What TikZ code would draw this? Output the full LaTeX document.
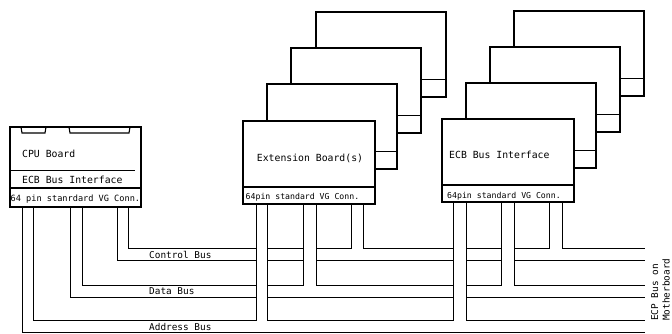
\documentclass[tikz,border=0pt]{standalone}
\usepackage{fontspec}
\newfontfamily\mono{DejaVu Sans Mono}
\begin{document}
\begin{tikzpicture}[x=1pt,y=-1pt,
  board/.style={draw, fill=white, line width=1.5pt, rectangle, anchor=north west,
    inner sep=0pt, outer sep=0pt, minimum width=132pt, minimum height=83pt},
  backboard/.style={board, line width=1.3pt, minimum width=130pt, minimum height=85pt},
  divline/.style={line width=1pt},
  wire/.style={line width=0.9pt},
  lbl/.style={font=\mono\fontsize{9.8}{11}\selectfont, inner sep=0pt, anchor=west},
  conn/.style={font=\mono\fontsize{8.2}{10}\selectfont, inner sep=0pt, anchor=west},
  buslbl/.style={font=\mono\fontsize{9.4}{11}\selectfont, inner sep=0pt, anchor=west}]
\useasboundingbox (0,0) rectangle (672,333);

% ---------- CPU board ----------
\node[board, minimum width=131pt, minimum height=80pt] (cpu) at (10,127) {};
\draw[line width=1.1pt] (21,127) -- (22,133) -- (45,133) -- (46,127);
\draw[line width=1.1pt] (69,127) -- (70,133) -- (129,133) -- (130,127);
\draw[divline] (10,170) -- (135,170);
\draw[line width=1.5pt] (10,188) -- (141,188);
\node[lbl] (cputxt) at (22,154) {CPU Board};
\node[lbl] (cpuecb) at (22,180) {ECB Bus Interface};
\node[conn, font=\mono\fontsize{8.6}{10}\selectfont] (cpuconn) at (10.5,199) {64 pin stanrdard VG Conn.};

% ---------- Extension boards ----------
\node[backboard] (e3) at (316,12) {};
\draw[divline] ([yshift=18pt]e3.south west) -- ([yshift=18pt]e3.south east);
\node[backboard] (e2) at (291,48) {};
\draw[divline] ([yshift=18pt]e2.south west) -- ([yshift=18pt]e2.south east);
\node[backboard] (e1) at (267,84) {};
\draw[divline] ([yshift=18pt]e1.south west) -- ([yshift=18pt]e1.south east);
\node[board] (e0) at (243,121) {};
\draw[line width=1.4pt] ([yshift=17pt]e0.south west) -- ([yshift=17pt]e0.south east);
\node[lbl, anchor=center] (etxt) at (310,158) {Extension Board(s)};
\node[conn] (econn) at (245.5,197.5) {64pin standard VG Conn.};

% ---------- ECB bus interface boards ----------
\node[backboard] (b3) at (514,11) {};
\draw[divline] ([yshift=18pt]b3.south west) -- ([yshift=18pt]b3.south east);
\node[backboard] (b2) at (490,47) {};
\draw[divline] ([yshift=18pt]b2.south west) -- ([yshift=18pt]b2.south east);
\node[backboard] (b1) at (466,83) {};
\draw[divline] ([yshift=18pt]b1.south west) -- ([yshift=18pt]b1.south east);
\node[board] (b0) at (442,119) {};
\draw[line width=1.4pt] ([yshift=17pt]b0.south west) -- ([yshift=17pt]b0.south east);
\node[lbl] (btxt) at (449,155) {ECB Bus Interface};
\node[conn] (bconn) at (447,196) {64pin standard VG Conn.};

% ---------- pins ----------
\coordinate (cp1) at (22,207);  \coordinate (cp2) at (33,207);
\coordinate (cp3) at (70,207);  \coordinate (cp4) at (82,207);
\coordinate (cp5) at (117,207); \coordinate (cp6) at (128,207);
\coordinate (ep1) at (256,204); \coordinate (ep2) at (267,204);
\coordinate (ep3) at (303,204); \coordinate (ep4) at (316,204);
\coordinate (ep5) at (351,204); \coordinate (ep6) at (363,204);
\coordinate (bp1) at (453,202); \coordinate (bp2) at (466,202);
\coordinate (bp3) at (501,202); \coordinate (bp4) at (514,202);
\coordinate (bp5) at (549,202); \coordinate (bp6) at (562,202);

% ---------- bus levels ----------
\coordinate (C1) at (0,248);   \coordinate (C1r) at (645,248);
\coordinate (C2) at (0,260.5); \coordinate (C2r) at (645,260.5);
\coordinate (D1) at (0,285);   \coordinate (D1r) at (645,285);
\coordinate (D2) at (0,297);   \coordinate (D2r) at (645,297);
\coordinate (A1) at (0,320.5); \coordinate (A1r) at (645,320.5);
\coordinate (A2) at (0,332);   \coordinate (A2r) at (645,332);

% control bus
\draw[wire] (cp6) |- (ep1 |- C1);
\draw[wire] (ep2 |- C1) -- (ep3 |- C1);
\draw[wire] (ep4 |- C1) -| (ep5);
\draw[wire] (ep6) |- (bp1 |- C1);
\draw[wire] (bp2 |- C1) -- (bp3 |- C1);
\draw[wire] (bp4 |- C1) -| (bp5);
\draw[wire] (bp6) |- (C1r);
\draw[wire] (cp5) |- (ep1 |- C2);
\draw[wire] (ep2 |- C2) -- (ep3 |- C2);
\draw[wire] (ep4 |- C2) -- (bp1 |- C2);
\draw[wire] (bp2 |- C2) -- (bp3 |- C2);
\draw[wire] (bp4 |- C2) -- (C2r);
% data bus
\draw[wire] (cp4) |- (ep1 |- D1);
\draw[wire] (ep2 |- D1) -| (ep3);
\draw[wire] (ep4) |- (bp1 |- D1);
\draw[wire] (bp2 |- D1) -| (bp3);
\draw[wire] (bp4) |- (D1r);
\draw[wire] (cp3) |- (ep1 |- D2);
\draw[wire] (ep2 |- D2) -- (bp1 |- D2);
\draw[wire] (bp2 |- D2) -- (D2r);
% address bus
\draw[wire] (cp2) |- (ep1 |- A1) -- (ep1);
\draw[wire] (ep2) |- (bp1 |- A1) -- (bp1);
\draw[wire] (bp2) |- (A1r);
\draw[wire] (cp1) |- (A2r);

% bus labels
\node[buslbl] (lctl) at (149,254.5) {Control Bus};
\node[buslbl] (ldat) at (149,291) {Data Bus};
\node[buslbl] (ladr) at (149,326.5) {Address Bus};
\node[font=\mono\fontsize{9.4}{11.5}\selectfont, inner sep=0pt, rotate=90,
  anchor=north west, align=left] (mb) at (651,321) {ECP Bus on\\Motherboard};
\end{tikzpicture}
\end{document}
